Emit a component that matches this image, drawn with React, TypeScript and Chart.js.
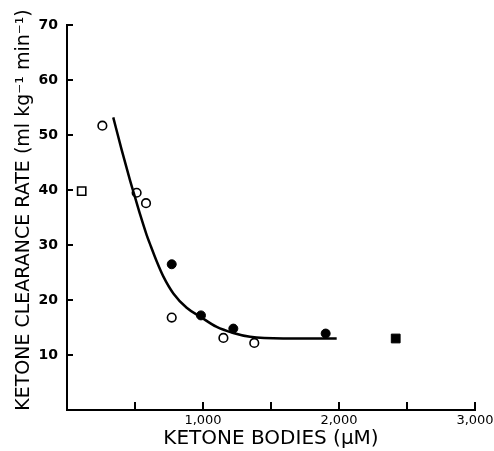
import React, { useEffect, useRef } from "react";
import { Chart, registerables } from "chart.js";

Chart.register(...registerables);

const openCircleX = [260, 512, 581, 770, 1150, 1377];
const openCircleY = [51.7, 39.5, 37.6, 16.8, 13.1, 12.2];
const filledCircleX = [770, 985, 1223, 1902];
const filledCircleY = [26.5, 17.2, 14.8, 13.9];
const openSquareX = [108];
const openSquareY = [39.8];
const filledSquareX = [2417];
const filledSquareY = [13.0];
const curveX = [340, 402, 463, 500, 537, 586, 610, 660, 708, 782, 880, 978, 1101, 1223, 1346, 1590, 1983];
const curveY = [53.2, 47.3, 41.8, 38.7, 35.6, 31.8, 30.2, 27.0, 24.3, 21.2, 18.6, 17.0, 15.1, 14.0, 13.3, 13.0, 13.0];

const xTickLabels = ["1,000", "2,000", "3,000"];
const yTickLabels = ["10", "20", "30", "40", "50", "60", "70"];
const xTitle = "KETONE BODIES (μM)";
const yTitle = "KETONE CLEARANCE RATE (ml kg⁻¹ min⁻¹)";

const toPts = (xs: number[], ys: number[]) => xs.map((x, i) => ({ x, y: ys[i] }));

const FONT = "'DejaVu Sans', sans-serif";

const innerTicks = {
  id: "innerTicks",
  afterDraw(chart: any) {
    const { ctx, chartArea, scales } = chart;
    ctx.save();
    ctx.strokeStyle = "#000";
    ctx.lineWidth = 2;
    scales.y.ticks.forEach((t: any) => {
      if (t.value === 0) return;
      const py = Math.round(scales.y.getPixelForValue(t.value));
      ctx.beginPath();
      ctx.moveTo(chartArea.left, py);
      ctx.lineTo(chartArea.left + 6, py);
      ctx.stroke();
    });
    scales.x.ticks.forEach((t: any) => {
      if (t.value === 0) return;
      const px = Math.round(scales.x.getPixelForValue(t.value));
      ctx.beginPath();
      ctx.moveTo(px, chartArea.bottom);
      ctx.lineTo(px, chartArea.bottom - 8);
      ctx.stroke();
    });
    // y axis title
    ctx.translate(24, 210);
    ctx.rotate(-Math.PI / 2);
    ctx.fillStyle = "#000";
    ctx.font = `19px ${FONT}`;
    ctx.textAlign = "center";
    ctx.textBaseline = "middle";
    ctx.fillText(yTitle, 0, 0);
    ctx.restore();
  },
};

export default function App() {
  const ref = useRef<HTMLCanvasElement>(null);
  useEffect(() => {
    if (!ref.current) return;
    const chart = new Chart(ref.current, {
      type: "scatter",
      data: {
        datasets: [
          {
            type: "line",
            data: toPts(curveX, curveY),
            borderColor: "#000",
            borderWidth: 2.5,
            pointRadius: 0,
            cubicInterpolationMode: "monotone",
            fill: false,
          } as any,
          {
            data: toPts(openCircleX, openCircleY),
            pointStyle: "circle",
            pointRadius: 4.3,
            backgroundColor: "#fff",
            borderColor: "#000",
            borderWidth: 1.6,
          },
          {
            data: toPts(filledCircleX, filledCircleY),
            pointStyle: "circle",
            pointRadius: 4.5,
            backgroundColor: "#000",
            borderColor: "#000",
            borderWidth: 1,
          },
          {
            data: toPts(openSquareX, openSquareY),
            pointStyle: "rect",
            pointRadius: 5.8,
            backgroundColor: "#fff",
            borderColor: "#000",
            borderWidth: 1.6,
          },
          {
            data: toPts(filledSquareX, filledSquareY),
            pointStyle: "rect",
            pointRadius: 6.2,
            backgroundColor: "#000",
            borderColor: "#000",
            borderWidth: 1,
          },
        ],
      },
      options: {
        responsive: false,
        animation: false,
        layout: { padding: { top: 25, right: 19, left: 0, bottom: 0 } },
        plugins: { legend: { display: false }, tooltip: { enabled: false } },
        scales: {
          x: {
            type: "linear",
            min: 0,
            max: 3000,
            afterFit: (s: any) => {
              s.height = 41;
              s.paddingRight = 0;
              s.paddingLeft = 0;
            },
            afterBuildTicks: (s: any) => {
              s.ticks = [0, 500, 1000, 1500, 2000, 2500, 3000].map((v) => ({ value: v }));
            },
            ticks: {
              autoSkip: false,
              maxRotation: 0,
              padding: 3,
              color: "#000",
              font: { family: FONT, size: 13 },
              callback: (v: any) => (v % 1000 === 0 && v > 0 ? xTickLabels[v / 1000 - 1] : ""),
            },
            grid: { display: false, drawTicks: false },
            border: { display: true, color: "#000", width: 2 },
            title: {
              display: true,
              text: xTitle,
              color: "#000",
              font: { family: FONT, size: 20 },
              padding: { top: 0, bottom: 0 },
            },
          },
          y: {
            type: "linear",
            min: 0,
            max: 70,
            afterFit: (s: any) => { s.width = 67; },
            afterBuildTicks: (s: any) => {
              s.ticks = [0, 10, 20, 30, 40, 50, 60, 70].map((v) => ({ value: v }));
            },
            ticks: {
              autoSkip: false,
              padding: 9,
              color: "#000",
              font: { family: FONT, size: 14, weight: "bold" },
              callback: (v: any) => (v > 0 ? yTickLabels[v / 10 - 1] : ""),
            },
            grid: { display: false, drawTicks: false },
            border: { display: true, color: "#000", width: 2 },
          },
        },
      },
      plugins: [innerTicks],
    } as any);
    return () => chart.destroy();
  }, []);
  return (
    <div style={{ position: "absolute", left: 0, top: 0, width: 494, height: 451, background: "#fff" }}>
      <canvas ref={ref} width={494} height={451} style={{ display: "block" }} />
    </div>
  );
}
